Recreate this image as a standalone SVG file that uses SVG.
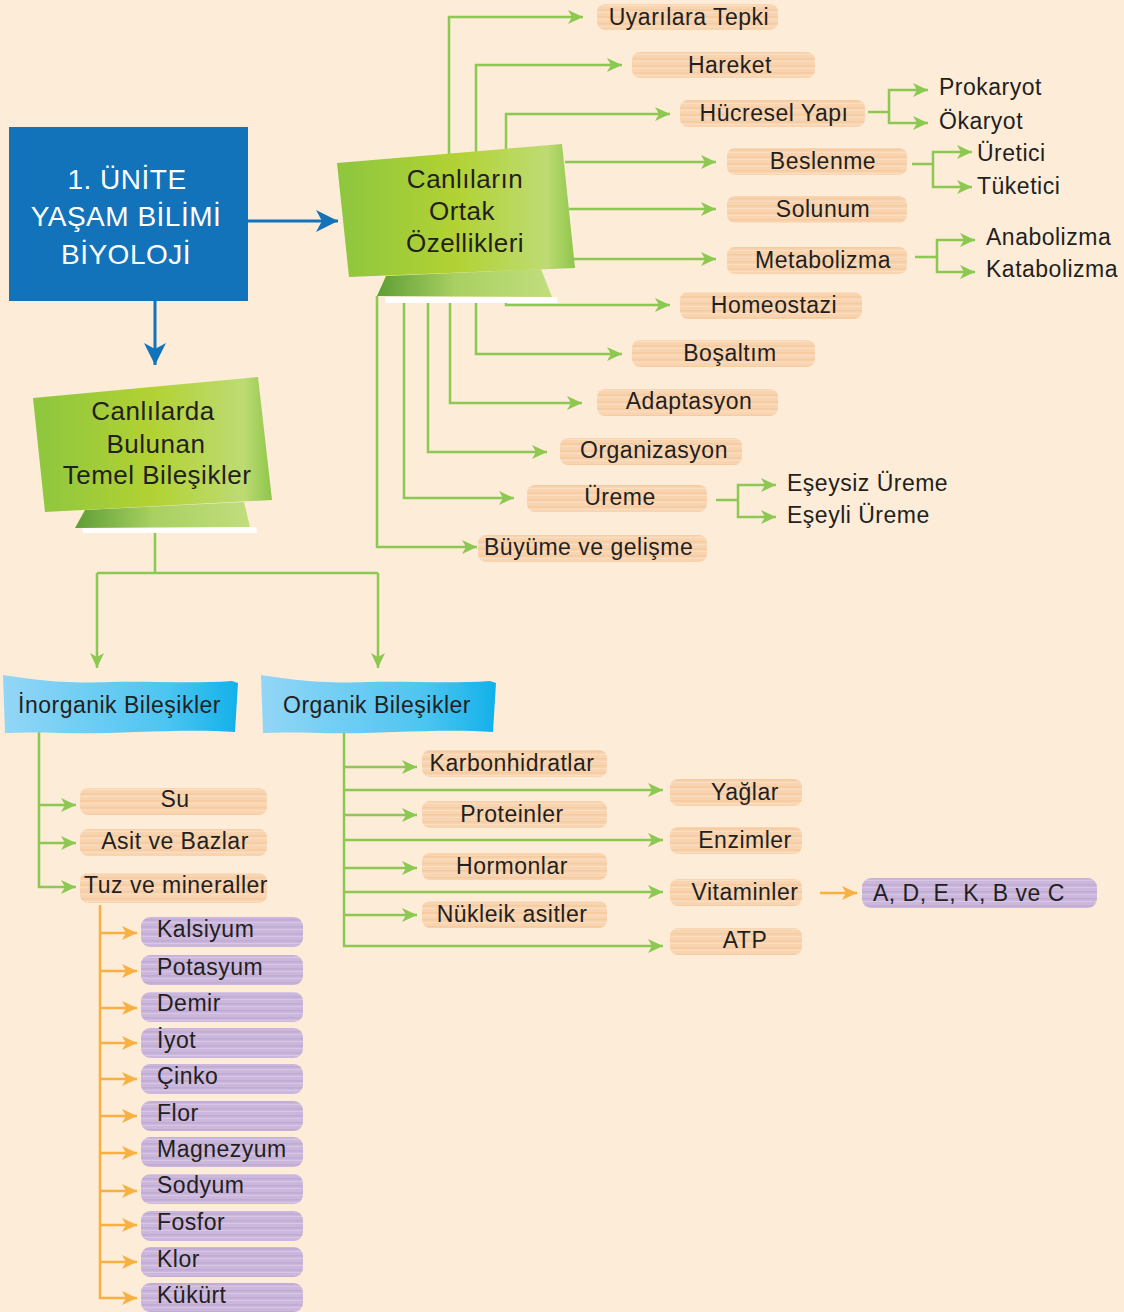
<svg xmlns="http://www.w3.org/2000/svg" width="1124" height="1312" viewBox="0 0 1124 1312">
<defs>
<style>
text{font-family:"Liberation Sans",Arial,sans-serif;fill:#231f20;font-size:23px;letter-spacing:0.5px}
.c{text-anchor:middle}
.w{fill:#ffffff;font-size:28px;text-anchor:middle}
.b{font-size:26px;text-anchor:middle}
.g{fill:none;stroke:#8dc852;stroke-width:2.5}
.ga{fill:none;stroke:#8dc852;stroke-width:2.5;marker-end:url(#ag)}
.oa{fill:none;stroke:#f9b042;stroke-width:2.5;marker-end:url(#ao)}
.ba{fill:none;stroke:#1273bb;stroke-width:3;marker-end:url(#ab)}
.pe{fill:url(#peach)}
.pu{fill:url(#purp)}
</style>
<pattern id="peach" width="40" height="7" patternUnits="userSpaceOnUse">
<rect width="40" height="7" fill="#f9d4b0"/>
<rect y="2" width="40" height="1.5" fill="#f6c89a" opacity="0.7"/>
<rect y="5" width="40" height="1" fill="#fbe1c6" opacity="0.8"/>
</pattern>
<pattern id="purp" width="40" height="7" patternUnits="userSpaceOnUse">
<rect width="40" height="7" fill="#cbb7dc"/>
<rect y="2" width="40" height="1.5" fill="#bca5d1" opacity="0.7"/>
<rect y="5" width="40" height="1" fill="#dacbe6" opacity="0.8"/>
</pattern>
<linearGradient id="gband" x1="0" y1="0" x2="1" y2="0">
<stop offset="0" stop-color="#8dc63f"/>
<stop offset="0.5" stop-color="#b2d233"/>
<stop offset="0.88" stop-color="#bedb74"/>
<stop offset="1" stop-color="#8ec64b"/>
</linearGradient>
<linearGradient id="gfold" x1="0" y1="0" x2="1" y2="0">
<stop offset="0" stop-color="#5e9e35"/>
<stop offset="0.45" stop-color="#a9d062"/>
<stop offset="1" stop-color="#c1de7d"/>
</linearGradient>
<linearGradient id="bband" x1="0" y1="0" x2="1" y2="0">
<stop offset="0" stop-color="#93d6f6"/>
<stop offset="0.7" stop-color="#4cc5f1"/>
<stop offset="1" stop-color="#12b1e9"/>
</linearGradient>
<marker id="ag" markerUnits="userSpaceOnUse" markerWidth="16" markerHeight="16" refX="15" refY="8" orient="auto">
<path d="M0,1 L15,8 L0,15 L4,8 Z" fill="#8dc852"/>
</marker>
<marker id="ao" markerUnits="userSpaceOnUse" markerWidth="16" markerHeight="16" refX="15" refY="8" orient="auto">
<path d="M0,1 L15,8 L0,15 L4,8 Z" fill="#f9b042"/>
</marker>
<marker id="ab" markerUnits="userSpaceOnUse" markerWidth="24" markerHeight="24" refX="22" refY="12" orient="auto">
<path d="M0,1 L22,12 L0,23 L6,12 Z" fill="#1273bb"/>
</marker>
</defs>
<rect width="1124" height="1312" fill="#fdecd8"/>

<g id="connectors">
<path class="ba" d="M248,221 H338"/>
<path class="ba" d="M155,301 V365"/>
<path class="ga" d="M449,154 V17 H583"/>
<path class="ga" d="M476,152 V65 H622"/>
<path class="ga" d="M506,149 V114 H670"/>
<path class="ga" d="M565,162 H716"/>
<path class="ga" d="M569,209 H716"/>
<path class="ga" d="M574,259 H716"/>
<path class="ga" d="M506,300 V305 H670"/>
<path class="ga" d="M476,300 V354 H622"/>
<path class="ga" d="M450,300 V403 H582"/>
<path class="ga" d="M428,300 V452 H547"/>
<path class="ga" d="M404,300 V498 H514"/>
<path class="ga" d="M377,296 V547 H477"/>
<path class="g" d="M868,112 H889"/>
<path class="ga" d="M889,112 V90 H928"/>
<path class="ga" d="M889,112 V123 H928"/>
<path class="g" d="M912,164 H933"/>
<path class="ga" d="M933,164 V152 H972"/>
<path class="ga" d="M933,164 V187 H972"/>
<path class="g" d="M915,257 H937"/>
<path class="ga" d="M937,257 V240 H975"/>
<path class="ga" d="M937,257 V272 H975"/>
<path class="g" d="M716,500 H738"/>
<path class="ga" d="M738,500 V485 H776"/>
<path class="ga" d="M738,500 V517 H776"/>
<path class="g" d="M155,533 V573 M97,573 H378"/>
<path class="ga" d="M97,573 V668"/>
<path class="ga" d="M378,573 V668"/>
<path class="ga" d="M39,732 V887 H76"/>
<path class="ga" d="M39,805 H76"/>
<path class="ga" d="M39,843 H76"/>
<path class="oa" d="M100,905 V1298 H137"/>
<path class="oa" d="M100,933 H137"/>
<path class="oa" d="M100,971 H137"/>
<path class="oa" d="M100,1008 H137"/>
<path class="oa" d="M100,1043 H137"/>
<path class="oa" d="M100,1079 H137"/>
<path class="oa" d="M100,1116 H137"/>
<path class="oa" d="M100,1153 H137"/>
<path class="oa" d="M100,1191 H137"/>
<path class="oa" d="M100,1225 H137"/>
<path class="oa" d="M100,1262 H137"/>
<path class="ga" d="M344,732 V946 H663"/>
<path class="ga" d="M344,767 H417"/>
<path class="ga" d="M344,790 H663"/>
<path class="ga" d="M344,815 H417"/>
<path class="ga" d="M344,840 H663"/>
<path class="ga" d="M344,868 H417"/>
<path class="ga" d="M344,892 H663"/>
<path class="ga" d="M344,915 H417"/>
<path class="oa" d="M820,893 H857"/>
</g>

<g id="root">
<rect x="9" y="127" width="239" height="174" fill="#1273bb"/>
<text class="w" x="127" y="189">1. ÜNİTE</text>
<text class="w" x="126" y="226">YAŞAM BİLİMİ</text>
<text class="w" x="126" y="264">BİYOLOJİ</text>
</g>

<g id="ortak">
<path d="M385,297 L557,297 L558,303 L386,303 Z" fill="#ffffff"/>
<path d="M377,296 L386,276 L541,269 L552,297 Z" fill="url(#gfold)"/>
<path d="M337,163 L562,144 L575,268 L349,277 Z" fill="url(#gband)"/>
<text class="b" x="465" y="188">Canlıların</text>
<text class="b" x="462" y="220">Ortak</text>
<text class="b" x="465" y="252">Özellikleri</text>
</g>

<g id="temel">
<path d="M82,527 L256,527 L257,533 L83,533 Z" fill="#ffffff"/>
<path d="M75,528 L85,510 L244,502 L250,527 Z" fill="url(#gfold)"/>
<path d="M33,398 L258,377 L272,500 L45,512 Z" fill="url(#gband)"/>
<text class="b" x="153" y="420">Canlılarda</text>
<text class="b" x="156" y="453">Bulunan</text>
<text class="b" x="157" y="484">Temel Bileşikler</text>
</g>

<g id="inorganik">
<path d="M3,675 C30,679 60,684 110,682 C150,681 190,684 232,681 L238,683 L235,732 C180,728 110,735 60,733 C30,732 15,733 5,733 Z" fill="url(#bband)"/>
<text x="18" y="713">İnorganik Bileşikler</text>
</g>
<g id="organik">
<path d="M261,675 C288,679 318,684 368,682 C408,681 448,684 490,681 L496,683 L493,732 C438,728 368,735 318,733 C288,732 273,733 263,733 Z" fill="url(#bband)"/>
<text x="283" y="713">Organik Bileşikler</text>
</g>

<g id="n-uyarilara"><rect class="pe" x="597" y="4" width="181" height="26" rx="8"/><text class="c" x="689" y="25">Uyarılara Tepki</text></g>
<g id="n-hareket"><rect class="pe" x="632" y="52" width="183" height="26" rx="8"/><text class="c" x="730" y="73">Hareket</text></g>
<g id="n-hucresel"><rect class="pe" x="680" y="100" width="185" height="27" rx="8"/><text class="c" x="774" y="121">Hücresel Yapı</text></g>
<g id="n-prokaryot"><text x="939" y="95">Prokaryot</text></g>
<g id="n-okaryot"><text x="939" y="129">Ökaryot</text></g>
<g id="n-beslenme"><rect class="pe" x="727" y="148" width="180" height="27" rx="8"/><text class="c" x="823" y="169">Beslenme</text></g>
<g id="n-uretici"><text x="977" y="161">Üretici</text></g>
<g id="n-tuketici"><text x="977" y="194">Tüketici</text></g>
<g id="n-solunum"><rect class="pe" x="727" y="196" width="180" height="27" rx="8"/><text class="c" x="823" y="217">Solunum</text></g>
<g id="n-metabolizma"><rect class="pe" x="727" y="247" width="180" height="27" rx="8"/><text class="c" x="823" y="268">Metabolizma</text></g>
<g id="n-anabolizma"><text x="986" y="245">Anabolizma</text></g>
<g id="n-katabolizma"><text x="986" y="277">Katabolizma</text></g>
<g id="n-homeostazi"><rect class="pe" x="680" y="292" width="182" height="27" rx="8"/><text class="c" x="774" y="313">Homeostazi</text></g>
<g id="n-bosaltim"><rect class="pe" x="632" y="340" width="183" height="27" rx="8"/><text class="c" x="730" y="361">Boşaltım</text></g>
<g id="n-adaptasyon"><rect class="pe" x="597" y="389" width="181" height="27" rx="8"/><text class="c" x="689" y="409">Adaptasyon</text></g>
<g id="n-organizasyon"><rect class="pe" x="560" y="438" width="182" height="27" rx="8"/><text class="c" x="654" y="458">Organizasyon</text></g>
<g id="n-ureme"><rect class="pe" x="527" y="485" width="180" height="27" rx="8"/><text class="c" x="620" y="505">Üreme</text></g>
<g id="n-eseysiz"><text x="787" y="491">Eşeysiz Üreme</text></g>
<g id="n-eseyli"><text x="787" y="523">Eşeyli Üreme</text></g>
<g id="n-buyume"><rect class="pe" x="478" y="535" width="229" height="27" rx="8"/><text x="484" y="555">Büyüme ve gelişme</text></g>

<g id="n-su"><rect class="pe" x="80" y="788" width="187" height="27" rx="8"/><text class="c" x="175" y="807">Su</text></g>
<g id="n-asit"><rect class="pe" x="80" y="829" width="187" height="27" rx="8"/><text class="c" x="175" y="849">Asit ve Bazlar</text></g>
<g id="n-tuz"><rect class="pe" x="80" y="873" width="187" height="30" rx="8"/><text x="84" y="893">Tuz ve mineraller</text></g>

<g id="n-kalsiyum"><rect class="pu" x="141" y="917" width="162" height="30" rx="9"/><text x="157" y="937">Kalsiyum</text></g>
<g id="n-potasyum"><rect class="pu" x="141" y="955" width="162" height="30" rx="9"/><text x="157" y="975">Potasyum</text></g>
<g id="n-demir"><rect class="pu" x="141" y="992" width="162" height="30" rx="9"/><text x="157" y="1011">Demir</text></g>
<g id="n-iyot"><rect class="pu" x="141" y="1028" width="162" height="30" rx="9"/><text x="157" y="1048">İyot</text></g>
<g id="n-cinko"><rect class="pu" x="141" y="1064" width="162" height="30" rx="9"/><text x="157" y="1084">Çinko</text></g>
<g id="n-flor"><rect class="pu" x="141" y="1101" width="162" height="30" rx="9"/><text x="157" y="1121">Flor</text></g>
<g id="n-magnezyum"><rect class="pu" x="141" y="1137" width="162" height="30" rx="9"/><text x="157" y="1157">Magnezyum</text></g>
<g id="n-sodyum"><rect class="pu" x="141" y="1174" width="162" height="30" rx="9"/><text x="157" y="1193">Sodyum</text></g>
<g id="n-fosfor"><rect class="pu" x="141" y="1211" width="162" height="30" rx="9"/><text x="157" y="1230">Fosfor</text></g>
<g id="n-klor"><rect class="pu" x="141" y="1247" width="162" height="30" rx="9"/><text x="157" y="1267">Klor</text></g>
<g id="n-kukurt"><rect class="pu" x="141" y="1283" width="162" height="29" rx="9"/><text x="157" y="1303">Kükürt</text></g>

<g id="n-karbonhidratlar"><rect class="pe" x="422" y="750" width="185" height="27" rx="8"/><text class="c" x="512" y="771">Karbonhidratlar</text></g>
<g id="n-proteinler"><rect class="pe" x="422" y="801" width="185" height="27" rx="8"/><text class="c" x="512" y="822">Proteinler</text></g>
<g id="n-hormonlar"><rect class="pe" x="422" y="853" width="185" height="27" rx="8"/><text class="c" x="512" y="874">Hormonlar</text></g>
<g id="n-nukleik"><rect class="pe" x="422" y="901" width="185" height="27" rx="8"/><text class="c" x="512" y="922">Nükleik asitler</text></g>
<g id="n-yaglar"><rect class="pe" x="670" y="779" width="132" height="27" rx="8"/><text class="c" x="745" y="800">Yağlar</text></g>
<g id="n-enzimler"><rect class="pe" x="670" y="827" width="132" height="27" rx="8"/><text class="c" x="745" y="848">Enzimler</text></g>
<g id="n-vitaminler"><rect class="pe" x="670" y="879" width="132" height="27" rx="8"/><text class="c" x="745" y="900">Vitaminler</text></g>
<g id="n-atp"><rect class="pe" x="670" y="928" width="132" height="27" rx="8"/><text class="c" x="745" y="948">ATP</text></g>
<g id="n-vit-list"><rect class="pu" x="862" y="878" width="235" height="30" rx="9"/><text x="873" y="901">A, D, E, K, B ve C</text></g>
</svg>
